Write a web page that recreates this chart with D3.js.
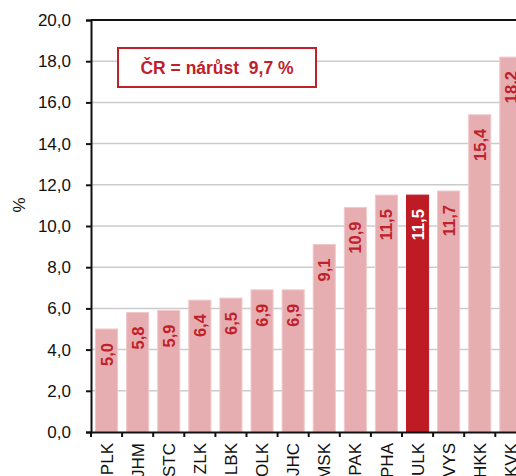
<!DOCTYPE html>
<html>
<head>
<meta charset="utf-8">
<script src="https://cdn.jsdelivr.net/npm/d3@7"></script>
<style>
  html, body { margin: 0; padding: 0; background: #fff; overflow: hidden; }
  svg { display: block; font-family: Arial, "Liberation Sans", sans-serif; }
</style>
</head>
<body>
<div id="chart"></div>
<script>
// kraje and growth in %
var regions = ["PLK", "JHM", "STC", "ZLK", "LBK", "OLK", "JHC", "MSK", "PAK", "PHA", "ULK", "VYS", "HKK", "KVK"];
var growth = [5.0, 5.8, 5.9, 6.4, 6.5, 6.9, 6.9, 9.1, 10.9, 11.5, 11.5, 11.7, 15.4, 18.2];
var highlight = ["ULK"];
var yTicks = [0, 2, 4, 6, 8, 10, 12, 14, 16, 18, 20];
var note = "ČR = nárůst  9,7 %";

var W = 516, H = 476;
var plotLeft = 91, plotTop = 20, plotBottom = 432;
var step = 31.1;

var data = regions.map(function(r, i) { return {name: r, value: growth[i]}; });

var svg = d3.select("#chart").append("svg")
    .attr("width", W)
    .attr("height", H);

var x = d3.scaleBand()
    .domain(regions)
    .range([plotLeft, plotLeft + step * regions.length])
    .paddingInner(0.29)
    .paddingOuter(0.145);

var y = d3.scaleLinear().domain([0, 20]).range([plotBottom, plotTop]);

var fmt = function(v) { return d3.format(".1f")(v).replace(".", ","); };

// gridlines
svg.append("g")
    .selectAll("line")
    .data(yTicks.filter(function(t) { return t > 0 && t < 20; }))
    .enter().append("line")
    .attr("x1", plotLeft).attr("x2", W)
    .attr("y1", function(d) { return y(d); })
    .attr("y2", function(d) { return y(d); })
    .style("stroke", "#cbcbcb")
    .style("stroke-width", 1.5);

// top border
svg.append("line")
    .attr("x1", plotLeft).attr("x2", W)
    .attr("y1", y(20)).attr("y2", y(20))
    .style("stroke", "#111").style("stroke-width", 2);

// bars
svg.append("g")
    .selectAll("rect")
    .data(data)
    .enter().append("rect")
    .attr("x", function(d) { return x(d.name); })
    .attr("width", x.bandwidth())
    .attr("y", function(d) { return y(d.value); })
    .attr("height", function(d) { return plotBottom - y(d.value); })
    .style("fill", function(d) { return highlight.indexOf(d.name) >= 0 ? "#be1b24" : "#e6aeb1"; })
    .style("stroke", function(d) { return highlight.indexOf(d.name) >= 0 ? "#be1b24" : "#f0c8ca"; })
    .style("stroke-width", 1);

// value labels, rotated inside bars
svg.append("g")
    .selectAll("text")
    .data(data)
    .enter().append("text")
    .attr("transform", function(d) {
        return "translate(" + (x(d.name) + x.bandwidth() / 2) + "," + (y(d.value) + 14) + ") rotate(-90)";
    })
    .attr("text-anchor", "end")
    .attr("dy", "0.36em")
    .style("font-size", "16.5px")
    .style("font-weight", "bold")
    .style("fill", function(d) { return highlight.indexOf(d.name) >= 0 ? "#ffffff" : "#c0202a"; })
    .text(function(d) { return fmt(d.value); });

// y axis
var yAxis = d3.axisLeft(y).tickValues(yTicks).tickFormat(fmt).tickSize(5).tickPadding(15);
var gy = svg.append("g")
    .attr("transform", "translate(" + plotLeft + ",0)")
    .call(yAxis);
gy.select(".domain").style("stroke", "#111").style("stroke-width", 2);
gy.selectAll(".tick line").style("stroke", "#111").style("stroke-width", 2);
gy.selectAll(".tick text").style("font-size", "17px").style("fill", "#111");

// x axis
var xAxis = d3.axisBottom(x).tickSize(0);
var gx = svg.append("g")
    .attr("transform", "translate(0," + plotBottom + ")")
    .call(xAxis);
gx.select(".domain").style("stroke", "#111").style("stroke-width", 2);
gx.selectAll(".tick text")
    .attr("transform", "rotate(-90)")
    .attr("text-anchor", "end")
    .attr("x", -11)
    .attr("y", 0)
    .attr("dy", "0.36em")
    .style("font-size", "17px")
    .style("fill", "#111");

// tick marks between bars
svg.append("g")
    .selectAll("line")
    .data(d3.range(regions.length + 1))
    .enter().append("line")
    .attr("x1", function(i) { return plotLeft + i * step; })
    .attr("x2", function(i) { return plotLeft + i * step; })
    .attr("y1", plotBottom).attr("y2", plotBottom + 5)
    .style("stroke", "#111").style("stroke-width", 2);

// y title
svg.append("text")
    .attr("transform", "translate(25,205) rotate(-90)")
    .attr("text-anchor", "middle")
    .style("font-size", "17px")
    .style("fill", "#111")
    .text("%");

// note box
var box = svg.append("g");
box.append("rect")
    .attr("x", 118).attr("y", 48)
    .attr("width", 198).attr("height", 39)
    .style("fill", "#fff")
    .style("stroke", "#c0202a")
    .style("stroke-width", 2);
box.append("text")
    .attr("x", 217).attr("y", 74)
    .attr("text-anchor", "middle")
    .style("font-size", "17.5px")
    .style("font-weight", "bold")
    .style("fill", "#c0202a")
    .style("white-space", "pre")
    .text(note);
</script>
</body>
</html>
